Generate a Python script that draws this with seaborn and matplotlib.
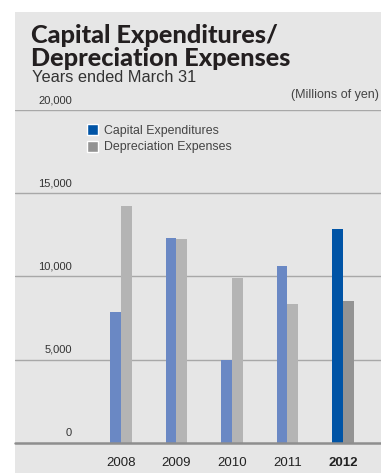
import matplotlib
matplotlib.use("Agg")
import matplotlib.pyplot as plt
import seaborn as sns
import pandas as pd
from matplotlib.patches import Rectangle, Patch

# Fiscal years and values (millions of yen)
years = ["2008", "2009", "2010", "2011", "2012"]
capex = [7850, 12320, 4990, 10620, 12840]
depreciation = [14230, 12240, 9900, 8340, 8520]
series_names = ["Capital Expenditures", "Depreciation Expenses"]
y_ticks = [0, 5000, 10000, 15000, 20000]

W, H = 381, 473
PANEL = "#e6e6e6"
BLUE_LIGHT, GRAY_LIGHT = "#6a88c4", "#b4b4b4"
BLUE_DARK, GRAY_DARK = "#0054a6", "#939393"
GRID = "#a8a8a8"
TEXT = "#333333"

sns.set_theme(style="white")
plt.rcParams["font.family"] = ["Liberation Sans", "DejaVu Sans"]

fig = plt.figure(figsize=(W / 100, H / 100), dpi=100)
fig.patch.set_facecolor("white")


def fx(px):
    return px / W


def fy(py):
    return 1 - py / H


# grey panel behind everything
fig.add_artist(Rectangle((fx(15), 0), 1 - fx(15), fy(12), transform=fig.transFigure,
                         facecolor=PANEL, edgecolor="none", zorder=0))

y0, y20 = 442.7, 110.0
ax = fig.add_axes([fx(15), fy(y0), 1 - fx(15), fy(y20) - fy(y0)])
ax.set_facecolor("none")

df = pd.DataFrame({
    "year": years * 2,
    "value": capex + depreciation,
    "series": [series_names[0]] * len(years) + [series_names[1]] * len(years),
})
sns.barplot(data=df, x="year", y="value", hue="series", order=years,
            hue_order=series_names, palette=[BLUE_LIGHT, GRAY_LIGHT],
            width=0.38, gap=0, saturation=1, linewidth=0, legend=False, ax=ax)

# latest year highlighted in stronger tones
ax.containers[0][-1].set_facecolor(BLUE_DARK)
ax.containers[1][-1].set_facecolor(GRAY_DARK)

ax.set_ylim(0, 20000)
ax.set_xlim(-1.91, 4.685)
for t in y_ticks[1:]:
    ax.axhline(t, color=GRID, lw=1.0, zorder=0.5)
ax.axhline(0, color="#8e8e8e", lw=1.8, zorder=3, clip_on=False)

for s in ax.spines.values():
    s.set_visible(False)
ax.set_yticks([])
ax.set_xlabel("")
ax.set_ylabel("")
ax.tick_params(axis="x", length=0, pad=10, labelsize=9.5, labelcolor="#222222")
for lab in ax.get_xticklabels():
    if lab.get_text() == years[-1]:
        lab.set_fontweight("bold")

# value labels sit just above their gridlines, right-aligned
ytrans = matplotlib.transforms.blended_transform_factory(ax.transAxes, ax.transData)
for t in y_ticks:
    ax.annotate(f"{t:,}", xy=((72 - 15) / (W - 15), t), xycoords=ytrans,
                xytext=(0, 3.5), textcoords="offset points",
                ha="right", va="bottom", fontsize=8, color=TEXT)

ax.legend(handles=[Patch(facecolor=BLUE_DARK), Patch(facecolor=GRAY_DARK)],
          labels=series_names, loc="upper left",
          bbox_to_anchor=(fx(86.5), fy(124)), bbox_transform=fig.transFigure,
          frameon=False, borderpad=0, borderaxespad=0, handlelength=0.95,
          handleheight=0.95, handletextpad=0.45, labelspacing=0.35,
          prop={"size": 8.9}, labelcolor="#444444")

title_font = dict(fontsize=18.2, fontweight="black", family=["Lato", "DejaVu Sans"],
                  color="#231f20", va="baseline")
fig.text(fx(31), fy(43), "Capital Expenditures/", **title_font)
fig.text(fx(31), fy(66), "Depreciation Expenses", **title_font)
fig.text(fx(32), fy(82), "Years ended March 31", fontsize=11.8, color="#333333",
         va="baseline")
fig.text(fx(379), fy(95), "(Millions of yen)", fontsize=9, color="#444444",
         ha="right", va="center")

fig.savefig("out.png", dpi=100, facecolor=fig.get_facecolor())
